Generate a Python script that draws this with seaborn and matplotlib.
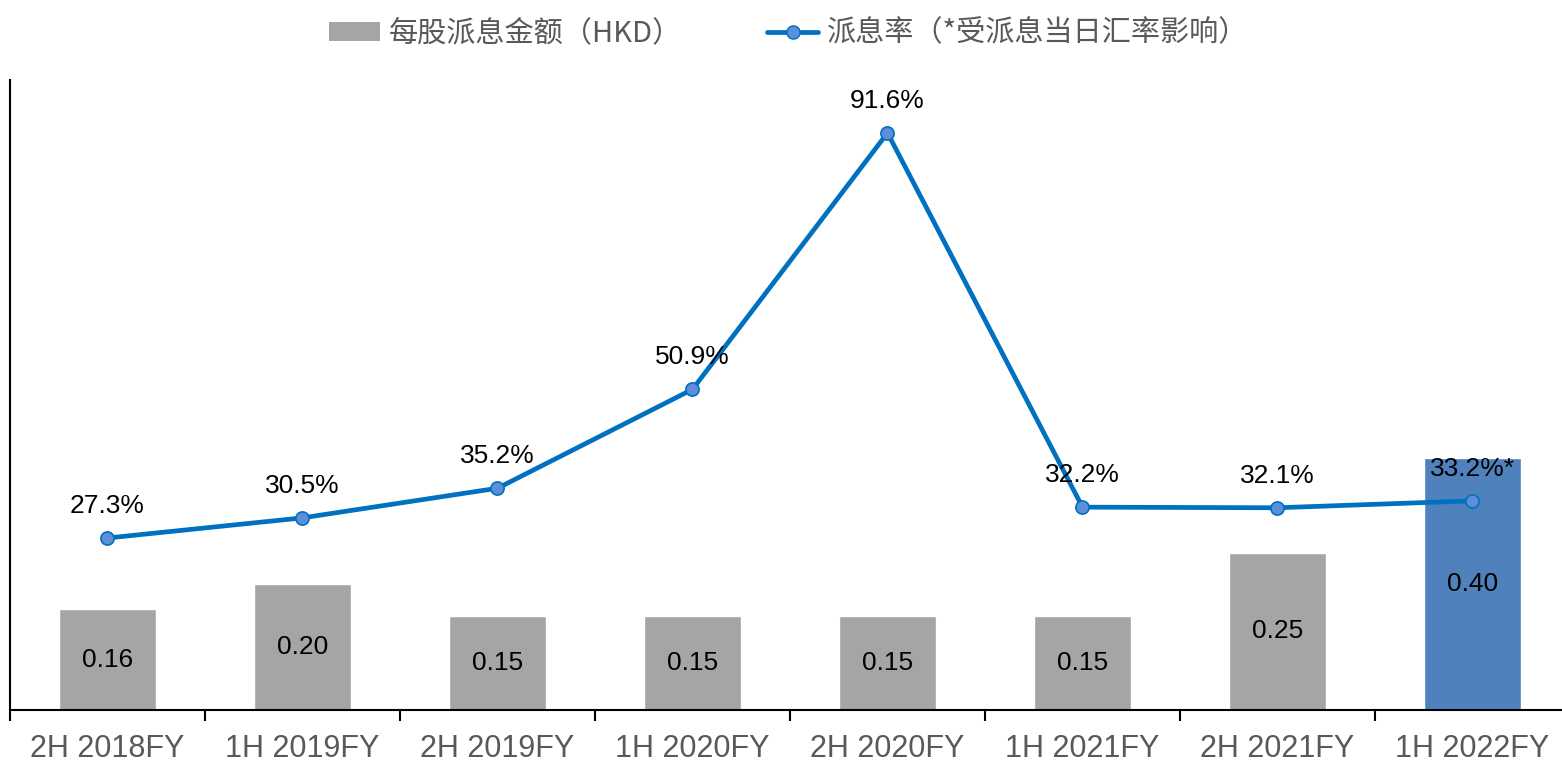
import matplotlib
matplotlib.use("Agg")
import matplotlib.pyplot as plt
from matplotlib.patches import Patch
from matplotlib.lines import Line2D
import numpy as np
import pandas as pd
import seaborn as sns

# data
periods = ["2H 2018FY", "1H 2019FY", "2H 2019FY", "1H 2020FY",
           "2H 2020FY", "1H 2021FY", "2H 2021FY", "1H 2022FY"]
dps_hkd = [0.16, 0.20, 0.15, 0.15, 0.15, 0.15, 0.25, 0.40]
payout = [27.3, 30.5, 35.2, 50.9, 91.6, 32.2, 32.1, 33.2]
payout_labels = ["27.3%", "30.5%", "35.2%", "50.9%", "91.6%", "32.2%", "32.1%", "33.2%*"]
bar_label = "每股派息金额（HKD）"
line_label = "派息率（*受派息当日汇率影响）"

gray = "#A5A5A5"
blue_bar = "#4F81BD"
line_blue = "#0070C0"
marker_fill = "#5B8FD9"
text_gray = "#595959"

sns.set_style("white")
plt.rcParams["font.family"] = ["Liberation Sans", "Noto Sans CJK SC", "DejaVu Sans"]

df = pd.DataFrame({"period": periods, "dps": dps_hkd, "payout": payout})
df["pos"] = np.arange(len(df))
bar_colors = [gray] * (len(df) - 1) + [blue_bar]

fig = plt.figure(figsize=(15.62, 7.61), dpi=100)
ax = fig.add_axes([10 / 1562, 51 / 761, 1560 / 1562, 630 / 761])

sns.barplot(data=df, x="period", y="dps", hue="period", palette=bar_colors,
            legend=False, width=0.5, saturation=1, ax=ax)
ax.set_ylim(0, 1.0)
ax.set_xlim(-0.5, len(df) - 0.5)

for i, v in enumerate(dps_hkd):
    ax.text(i, v / 2, f"{v:.2f}", ha="center", va="center", fontsize=19, color="black")

ax2 = ax.twinx()
sns.lineplot(data=df, x="pos", y="payout", color=line_blue, linewidth=3.4,
             marker="o", markersize=9.5, markerfacecolor=marker_fill,
             markeredgecolor=line_blue, markeredgewidth=1.2, ax=ax2)
ax2.set_ylim(0, 100)
ax2.set_xlim(-0.5, len(df) - 0.5)

for i, (v, lab) in enumerate(zip(payout, payout_labels)):
    ax2.annotate(lab, (i, v), xytext=(0, 23), textcoords="offset points",
                 ha="center", va="center", fontsize=19, color="black")

# axes styling
for a in (ax, ax2):
    a.set_xlabel("")
    a.set_ylabel("")
    a.set_yticks([])
    for s in ("top", "right"):
        a.spines[s].set_visible(False)
ax2.spines["left"].set_visible(False)
ax2.spines["bottom"].set_visible(False)
ax.spines["left"].set_color("black")
ax.spines["left"].set_linewidth(1.5)
ax.spines["bottom"].set_color("black")
ax.spines["bottom"].set_linewidth(1.5)

ax.set_xticks(np.arange(len(df)))
ax.set_xticklabels(periods, fontsize=22, color=text_gray)
ax.set_xticks(np.arange(len(df) + 1) - 0.5, minor=True)
ax.tick_params(axis="x", which="major", bottom=False, length=0, pad=17)
ax.tick_params(axis="x", which="minor", bottom=True, length=8, width=1.5,
               color="black", direction="out")

handles = [
    Patch(facecolor=gray, edgecolor="none"),
    Line2D([0], [0], color=line_blue, linewidth=3.4, marker="o", markersize=9.5,
           markerfacecolor=marker_fill, markeredgecolor=line_blue),
]
fig.legend(handles, [bar_label, line_label], loc="upper center",
           bbox_to_anchor=(0.505, 1.01), ncol=2, frameon=False,
           labelcolor=text_gray, handlelength=1.75, handleheight=0.6,
           handletextpad=0.3, columnspacing=2.9,
           prop={"family": ["Noto Sans CJK SC", "DejaVu Sans"], "size": 21})

fig.savefig("out.png", dpi=100)
